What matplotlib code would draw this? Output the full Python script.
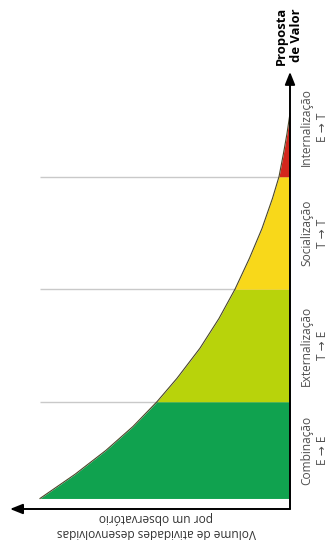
import matplotlib
matplotlib.use("Agg")
import matplotlib.pyplot as plt

plt.rcParams["font.family"] = ["Open Sans", "DejaVu Sans"]

# Value proposition (vertical) vs. volume of activities (horizontal, growing leftwards)
value_pts = [3.5, 8.87, 14.2, 19.5, 25.0, 30.2, 36.9, 43.5, 50.0,
             56.9, 63.5, 70.2, 75.0, 80.2, 84.6, 89.1]
volume_pts = [100.0, 86.0, 73.6, 62.8, 53.2, 45.2, 36.0, 28.4, 22.0,
              16.2, 11.2, 7.0, 4.4, 2.6, 1.2, 0.0]

# Knowledge-conversion stages and their limits on the value axis
stage_names = ["Combinação\nE → E", "Externalização\nT → E",
               "Socialização\nT → T", "Internalização\nE → T"]
stage_edges = [3.5, 25.0, 50.0, 75.0, 89.1]
stage_label_pos = [14.25, 37.5, 62.5, 86.0]
stage_colors = ["#10a24f", "#b8d30b", "#f8d81a", "#d3271d"]

y_axis_title = "Proposta\nde Valor"
x_axis_title = "Volume de atividades desenvolvidas\npor um observatório"

fig = plt.figure(figsize=(3.3, 5.4), dpi=100)
ax = fig.add_axes([0, 0, 1, 1])
ax.set_xlim(116, -16)
ax.set_ylim(-5.73, 114.27)
ax.axis("off")

# guide lines at the stage limits
ax.hlines(stage_edges[1:4], 0, max(volume_pts), color="#c9c9c9", lw=1.0, zorder=1)

# coloured bands under the curve
for i, color in enumerate(stage_colors):
    lo, hi = stage_edges[i], stage_edges[i + 1]
    ys = [v for v in value_pts if lo <= v <= hi]
    xs = [x for v, x in zip(value_pts, volume_pts) if lo <= v <= hi]
    ax.fill_betweenx(ys, 0, xs, color=color, lw=0, zorder=2)

ax.plot(volume_pts, value_pts, color="#4a4628", lw=0.8, zorder=3,
        solid_joinstyle="round")

# axes drawn as arrows
base = 1.16
arrow = dict(arrowstyle="-|>,head_length=0.75,head_width=0.3", color="black",
             lw=1.4, shrinkA=0, shrinkB=0, mutation_scale=10)
ax.annotate("", xy=(0, 98.3), xytext=(0, base), arrowprops=arrow, zorder=5)
ax.annotate("", xy=(112, base), xytext=(0, base), arrowprops=arrow, zorder=5)

for name, pos in zip(stage_names, stage_label_pos):
    ax.text(-9.8, pos, name, rotation=90, ha="center", va="center",
            multialignment="center", fontsize=8.6, color="#505050",
            linespacing=1.3)

ax.text(0.4, 106.4, y_axis_title, rotation=90, ha="center", va="center",
        multialignment="center", fontsize=9.4, fontweight="bold", color="black",
        linespacing=1.15)

ax.text(53.6, -2.3, x_axis_title, rotation=180, ha="center", va="center",
        multialignment="center", fontsize=8.6, color="#333333", linespacing=1.2)

fig.savefig("out.png", dpi=100)
